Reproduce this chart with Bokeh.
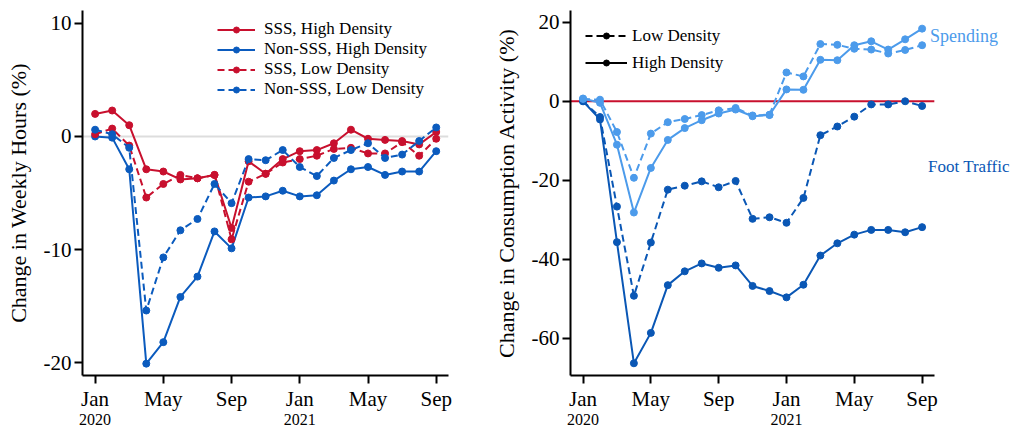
from bokeh.plotting import figure
from bokeh.models import (Range1d, FixedTicker, LinearAxis, Legend, LegendItem,
                          Label, Span)
from bokeh.layouts import row
from bokeh.embed import file_html
from bokeh.resources import INLINE

# Monthly index: 0 = Jan 2020 ... 20 = Sep 2021
months = list(range(21))
month_ticks = [0, 4, 8, 12, 16, 20]
month_labels = ["Jan", "May", "Sep", "Jan", "May", "Sep"]
year_ticks = [0, 12]
year_labels = ["2020", "2021"]

# Change in weekly hours (%)
sss_high = [2.0, 2.3, 1.0, -2.9, -3.1, -3.8, -3.7, -3.4, -8.1, -2.2, -3.3,
            -2.0, -1.3, -1.2, -0.6, 0.6, -0.2, -0.3, -0.4, -0.7, 0.4]
nonsss_high = [0.0, -0.1, -2.9, -20.1, -18.2, -14.2, -12.4, -8.4, -9.9, -5.4, -5.3,
               -4.8, -5.3, -5.2, -3.9, -2.9, -2.7, -3.4, -3.1, -3.1, -1.3]
sss_low = [0.2, 0.7, -0.8, -5.4, -4.2, -3.4, -3.7, -3.4, -9.1, -4.0, -3.3,
           -2.3, -2.0, -1.7, -1.1, -1.0, -1.5, -1.5, -0.5, -1.7, -0.2]
nonsss_low = [0.6, 0.2, -1.0, -15.4, -10.7, -8.3, -7.3, -4.2, -5.9, -2.0, -2.1,
              -1.2, -2.7, -3.5, -1.9, -1.2, -0.6, -1.9, -1.6, -0.4, 0.8]

# Change in consumption activity (%)
spend_low = [0.6, 0.4, -7.8, -19.4, -8.2, -5.3, -4.5, -3.5, -2.3, -1.7, -3.6,
             -3.4, 7.3, 6.3, 14.5, 14.3, 13.3, 13.1, 12.1, 13.0, 14.2]
spend_high = [0.7, -0.4, -11.0, -28.2, -16.9, -9.8, -6.8, -4.8, -3.1, -2.1, -3.8,
              -3.5, 3.0, 2.9, 10.5, 10.4, 14.2, 15.2, 13.1, 15.7, 18.4]
foot_low = [0.0, -4.0, -26.7, -49.3, -35.8, -22.4, -21.4, -20.3, -21.8, -20.2, -29.8,
            -29.4, -30.8, -24.5, -8.6, -6.4, -3.9, -0.8, -0.8, 0.0, -1.2]
foot_high = [0.0, -4.6, -35.7, -66.4, -58.7, -46.6, -43.1, -41.1, -42.2, -41.6, -46.8,
             -48.1, -49.7, -46.5, -39.1, -36.0, -33.8, -32.6, -32.6, -33.2, -31.9]

left_yticks = [-20, -10, 0, 10]
right_yticks = [-60, -40, -20, 0, 20]

FONT = "Liberation Serif"
RED = "#C8102E"
BLUE = "#0B5BBE"
LIGHT = "#4C9BEB"
DARK = "#0A57B5"
INK = "#000000"
DASH = "7 4"

# horizontal extent of the month axis (months, with a little padding)
X_LO, X_HI = -0.74, 20.72
blank = [float("nan")] * len(months)


def style_axes(p, yticks):
    p.xaxis.ticker = FixedTicker(ticks=month_ticks)
    p.xaxis.major_label_overrides = {t: l for t, l in zip(month_ticks, month_labels)}
    p.yaxis.ticker = FixedTicker(ticks=yticks)
    p.yaxis.major_label_overrides = {t: str(t) for t in yticks}
    for ax in (p.xaxis[0], p.yaxis[0]):
        ax.axis_line_width = 2
        ax.axis_line_color = INK
        ax.major_tick_line_width = 2
        ax.major_tick_out = 8
        ax.major_tick_in = 0
        ax.minor_tick_line_color = None
        ax.major_label_text_font = FONT
        ax.major_label_text_font_size = "21px"
        ax.major_label_text_color = INK
        ax.axis_label_text_font = FONT
        ax.axis_label_text_font_size = "22px"
        ax.axis_label_text_font_style = "normal"
        ax.axis_label_text_color = INK
    p.xaxis.major_label_standoff = 3
    p.yaxis.major_label_standoff = 3
    p.yaxis.axis_label_standoff = 10
    p.xaxis.bounds = (X_LO, X_HI)
    years = LinearAxis(ticker=FixedTicker(ticks=year_ticks),
                       major_label_overrides={t: l for t, l in zip(year_ticks, year_labels)},
                       axis_line_color=None, major_tick_line_color=None,
                       minor_tick_line_color=None, major_label_standoff=-6,
                       major_label_text_font=FONT, major_label_text_font_size="16px",
                       major_label_text_color=INK)
    p.add_layout(years, "below")
    p.xgrid.visible = False
    p.ygrid.visible = False
    p.outline_line_color = None


# ---- Left panel: weekly hours ----
p1 = figure(width=490, height=427, output_backend="svg", toolbar_location=None,
            x_range=Range1d(X_LO, X_HI), y_range=Range1d(-21.15, 11.15),
            min_border_left=82, min_border_right=42, min_border_top=10,
            min_border_bottom=51)
p1.add_layout(Span(location=0, dimension="width", line_color="#dddddd",
                   line_width=2, level="underlay"))

series_left = [
    ("SSS, High Density", sss_high, RED, "solid"),
    ("Non-SSS, High Density", nonsss_high, BLUE, "solid"),
    ("SSS, Low Density", sss_low, RED, DASH),
    ("Non-SSS, Low Density", nonsss_low, BLUE, DASH),
]
rend = []
for name, vals, col, dash in series_left:
    ln = p1.line(months, vals, line_color=col, line_width=2, line_dash=dash)
    pt = p1.scatter(months, vals, size=7, fill_color=col, line_color=col)
    rend.append([ln, pt])

leg1 = Legend(items=[LegendItem(label=s[0], renderers=r) for s, r in zip(series_left, rend)],
              location=(135, 276), padding=0, margin=0, spacing=0,
              glyph_width=38, glyph_height=15, label_height=20, label_standoff=9,
              label_text_font=FONT, label_text_font_size="17px",
              label_text_color=INK,
              border_line_color=None, background_fill_alpha=0)
p1.add_layout(leg1)
p1.yaxis.axis_label = "Change in Weekly Hours (%)"
style_axes(p1, left_yticks)

# ---- Right panel: consumption activity ----
# the frame runs on to the page edge so the series names fit beside the lines
px_per_month = 17.03
right_frame_px = 1011 - 568
p2 = figure(width=521, height=427, output_backend="svg", toolbar_location=None,
            x_range=Range1d(X_LO, X_LO + right_frame_px / px_per_month),
            y_range=Range1d(-69.5, 23.0),
            min_border_left=78, min_border_right=0, min_border_top=10,
            min_border_bottom=51)
p2.segment(x0=[X_LO], y0=[0], x1=[X_HI], y1=[0], line_color=RED, line_width=2,
           level="underlay")

for vals, col, dash in [(foot_high, DARK, "solid"), (foot_low, DARK, DASH),
                        (spend_high, LIGHT, "solid"), (spend_low, LIGHT, DASH)]:
    p2.line(months, vals, line_color=col, line_width=2, line_dash=dash)
    p2.scatter(months, vals, size=7, fill_color=col, line_color=col)

# legend keys in black (no visible data of their own)
k_low = [p2.line(months, blank, line_color=INK, line_width=2, line_dash=DASH),
         p2.scatter(months, blank, size=7, fill_color=INK, line_color=INK)]
k_high = [p2.line(months, blank, line_color=INK, line_width=2),
          p2.scatter(months, blank, size=7, fill_color=INK, line_color=INK)]
leg2 = Legend(items=[LegendItem(label="Low Density", renderers=k_low),
                     LegendItem(label="High Density", renderers=k_high)],
              location=(15, 299), padding=0, margin=0, spacing=0,
              glyph_width=42, glyph_height=15, label_height=27, label_standoff=5,
              label_text_font=FONT, label_text_font_size="17px",
              label_text_color=INK,
              border_line_color=None, background_fill_alpha=0)
p2.add_layout(leg2)

p2.add_layout(Label(x=20.47, y=16.5, text="Spending", text_font=FONT,
                    text_font_size="18px", text_color=LIGHT, text_baseline="middle"))
p2.add_layout(Label(x=20.35, y=-16.5, text="Foot Traffic", text_font=FONT,
                    text_font_size="17px", text_color=DARK, text_baseline="middle"))
p2.yaxis.axis_label = "Change in Consumption Activity (%)"
style_axes(p2, right_yticks)

layout = row(p1, p2)
open("out.html", "w").write(file_html(layout, INLINE))
